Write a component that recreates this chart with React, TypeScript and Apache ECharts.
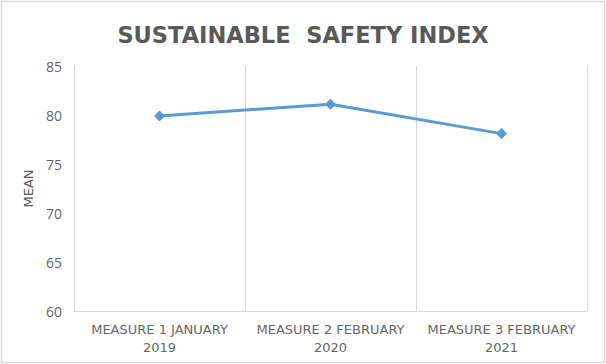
import React, { useEffect, useRef } from "react";
import * as echarts from "echarts";

const categories = ["MEASURE 1 JANUARY\n2019", "MEASURE 2 FEBRUARY\n2020", "MEASURE 3 FEBRUARY\n2021"];
const meanValues = [79.9, 81.1, 78.1];
const titleText = "SUSTAINABLE  SAFETY INDEX";
const yAxisName = "MEAN";

export default function App() {
  const ref = useRef<HTMLDivElement>(null);
  useEffect(() => {
    if (!ref.current) return;
    const chart = echarts.init(ref.current, undefined, { renderer: "svg" });
    chart.setOption({
      animation: false,
      backgroundColor: "#ffffff",
      title: {
        text: titleText,
        left: "center",
        top: 18,
        textStyle: { fontFamily: "DejaVu Sans", fontWeight: "bold", fontSize: 22.5, color: "#595959" },
      },
      graphic: [
        {
          type: "rect",
          shape: { x: 1.5, y: 1.5, width: 603, height: 361 },
          style: { fill: "none", stroke: "#d9d9d9", lineWidth: 1.5 },
          silent: true,
        },
      ],
      grid: { left: 74, right: 19, top: 66, bottom: 53 },
      xAxis: {
        type: "category",
        data: categories,
        boundaryGap: true,
        axisLine: { show: true, lineStyle: { color: "#d9d9d9", width: 1 } },
        axisTick: { show: false },
        splitLine: { show: true, interval: 0, lineStyle: { color: "#d9d9d9", width: 1 } },
        axisLabel: {
          interval: 0,
          margin: 9,
          fontFamily: "DejaVu Sans",
          fontSize: 13,
          lineHeight: 18,
          color: "#666666",
        },
      },
      yAxis: {
        type: "value",
        min: 60,
        max: 85,
        interval: 5,
        name: yAxisName,
        nameLocation: "middle",
        nameRotate: 90,
        nameGap: 38,
        nameTextStyle: { fontFamily: "DejaVu Sans", fontSize: 13, color: "#595959" },
        axisLine: { show: true, lineStyle: { color: "#d9d9d9", width: 1 } },
        axisTick: { show: false },
        splitLine: { show: false },
        axisLabel: { margin: 12, fontFamily: "Open Sans", fontSize: 14, color: "#666666" },
      },
      series: [
        {
          type: "line",
          data: meanValues,
          symbol: "diamond",
          symbolSize: 11,
          lineStyle: { color: "#5B9BD5", width: 3 },
          itemStyle: { color: "#5B9BD5" },
        },
      ],
    });
    return () => chart.dispose();
  }, []);
  return <div ref={ref} style={{ position: "fixed", left: 0, top: 0, width: 606, height: 364 }} />;
}
